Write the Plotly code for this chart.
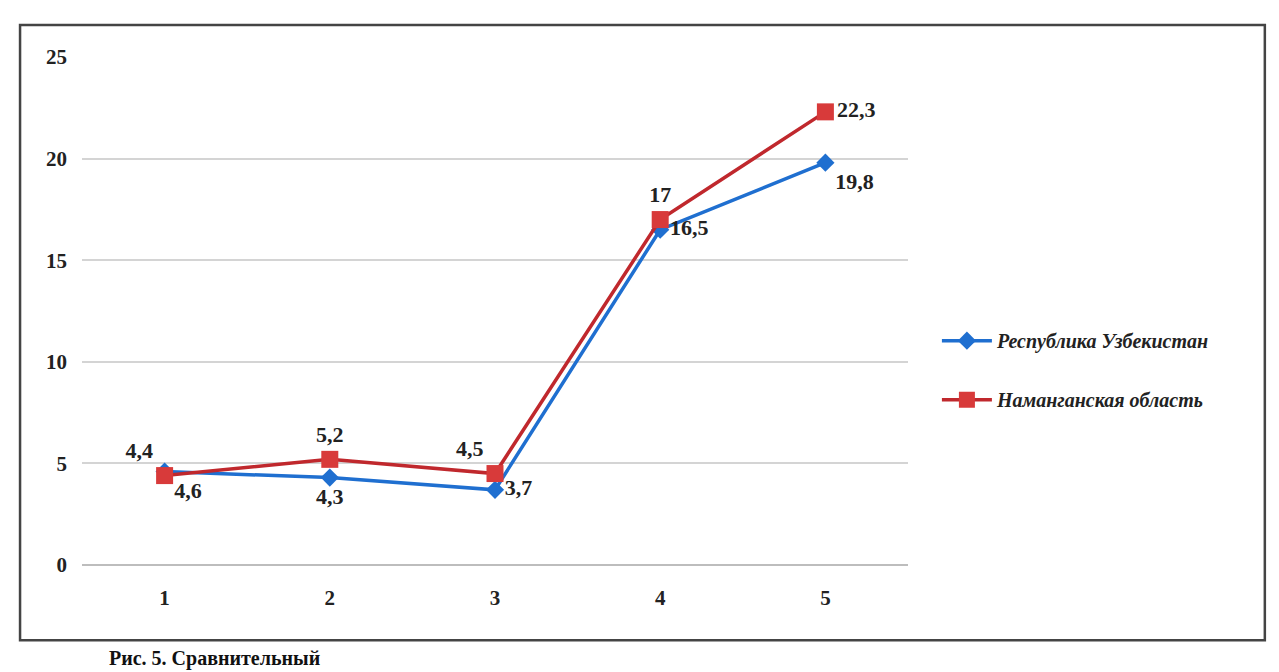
import plotly.graph_objects as go

categories = [1, 2, 3, 4, 5]
uzbekistan = [4.6, 4.3, 3.7, 16.5, 19.8]
namangan = [4.4, 5.2, 4.5, 17, 22.3]
uzb_labels = ["4,6", "4,3", "3,7", "16,5", "19,8"]
nam_labels = ["4,4", "5,2", "4,5", "17", "22,3"]
y_ticks = [0, 5, 10, 15, 20, 25]

label_font = dict(family="Liberation Serif", size=22, color="#222222", weight="bold")

fig = go.Figure()
fig.add_trace(go.Scatter(
    x=categories, y=uzbekistan, name="Республика Узбекистан", legendgroup="a",
    mode="lines+markers+text", text=uzb_labels,
    textposition=["bottom right", "bottom center", "middle right", "middle right", "bottom right"],
    textfont=label_font,
    line=dict(color="#1F6FD0", width=3.5),
    marker=dict(symbol="diamond", size=14, color="#1F6FD0"),
))
fig.add_trace(go.Scatter(
    x=categories, y=namangan, name="Наманганская область", legendgroup="b",
    mode="lines+markers+text", text=nam_labels,
    textposition=["top left", "top center", "top left", "top center", "middle right"],
    textfont=label_font,
    line=dict(color="#C0282D", width=3.5),
    marker=dict(symbol="square", size=17, color="#D83A3A"),
))

fig.update_layout(
    width=1279, height=672,
    margin=dict(l=82, r=371, t=57, b=107),
    paper_bgcolor="white", plot_bgcolor="white",
    showlegend=True,
    legend=dict(x=1.035, y=0.48, xanchor="left", yanchor="top",
                font=dict(family="Liberation Serif", size=20, color="#222222", weight="bold", style="italic"),
                itemwidth=50, tracegroupgap=30, bgcolor="rgba(0,0,0,0)"),
    xaxis=dict(range=[0.5, 5.5], tickvals=categories, ticktext=[str(c) for c in categories],
               showgrid=False, zeroline=False, showline=False, ticks="",
               tickfont=dict(family="Liberation Serif", size=21, color="#222222", weight="bold"),
               ticklabelstandoff=18),
    yaxis=dict(range=[0, 25], tickvals=y_ticks, showgrid=True, gridcolor="#D4D4D4", gridwidth=1.5,
               zeroline=True, zerolinecolor="#BDBDBD", zerolinewidth=1.5, showline=False, ticks="",
               tickfont=dict(family="Liberation Serif", size=21, color="#222222", weight="bold"),
               ticklabelstandoff=14),
    shapes=[dict(type="rect", xref="paper", yref="paper", x0=-0.075, x1=1.432, y0=-0.148, y1=1.063,
                 line=dict(color="#444444", width=2.5), fillcolor="rgba(0,0,0,0)", layer="below")],
    annotations=[dict(text="<b>Рис. 5. Сравнительный</b>", xref="paper", yref="paper",
                      x=0.03, y=-0.158, xanchor="left", yanchor="top", showarrow=False,
                      font=dict(family="Liberation Serif", size=20, color="#111111"))],
)

fig.write_html("out.html")
